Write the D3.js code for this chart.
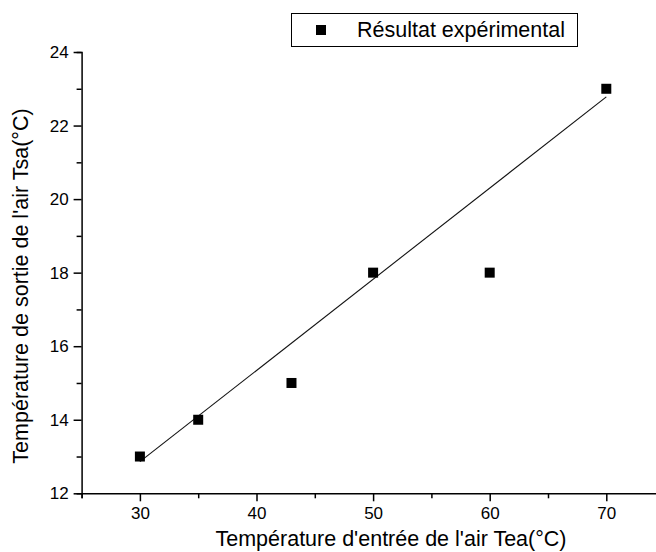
<!DOCTYPE html>
<html>
<head>
<meta charset="utf-8">
<script src="https://cdn.jsdelivr.net/npm/d3@7/dist/d3.min.js"></script>
<style>
  html, body { margin: 0; padding: 0; background: #fff; }
  svg { display: block; font-family: "Liberation Sans", Arial, sans-serif; }
</style>
</head>
<body>
<svg id="chart" width="656" height="552"></svg>
<script>
// Measured points: inlet air temperature vs outlet air temperature
const inletTemp = [30, 35, 43, 50, 60, 70];
const outletTemp = [13, 14, 15, 18, 18, 23];

// Fitted straight line (end points)
const fitInlet = [30, 70];
const fitOutlet = [12.86, 22.78];

const xMajorTicks = [30, 40, 50, 60, 70];
const xMinorTicks = [25, 35, 45, 55, 65, 75];
const yMajorTicks = [12, 14, 16, 18, 20, 22, 24];
const yMinorTicks = [13, 15, 17, 19, 21, 23];

const legendLabel = "Résultat expérimental";
const xTitle = "Température d'entrée de l'air Tea(°C)";
const yTitle = "Température de sortie de l'air Tsa(°C)";

const svg = d3.select("#chart");

const x = d3.scaleLinear().domain([25, 75]).range([81.6, 664.6]);
const y = d3.scaleLinear().domain([12, 24]).range([493.3, 52]);

// Axes (outward ticks, major + minor)
const gx = svg.append("g").attr("transform", `translate(0,${y(12)})`);
gx.call(d3.axisBottom(x).tickValues(xMinorTicks).tickSize(5).tickFormat(""));
gx.call(g => g.append("g").call(d3.axisBottom(x).tickValues(xMajorTicks).tickSize(8).tickPadding(6).tickFormat(d3.format("d"))));

const gy = svg.append("g").attr("transform", `translate(${x(25)},0)`);
gy.call(d3.axisLeft(y).tickValues(yMinorTicks).tickSize(5).tickFormat(""));
gy.call(g => g.append("g").call(d3.axisLeft(y).tickValues(yMajorTicks).tickSize(8).tickPadding(5).tickFormat(d3.format("d"))));

svg.selectAll(".domain").attr("stroke", "#000").attr("stroke-width", 1.5);
svg.selectAll(".tick line").attr("stroke", "#000").attr("stroke-width", 1.5);
svg.selectAll(".tick text")
  .attr("fill", "#000")
  .style("font-size", "17px")
  .style("font-family", "'Liberation Sans', Arial, sans-serif");
// Only keep one domain path per axis
gx.selectAll("g > g .domain").remove();
gy.selectAll("g > g .domain").remove();

// Fit line
const line = d3.line().x((d, i) => x(fitInlet[i])).y(d => y(d));
svg.append("path")
  .datum(fitOutlet)
  .attr("d", line)
  .attr("fill", "none")
  .attr("stroke", "#111")
  .attr("stroke-width", 1.1);

// Square markers
const ms = 10;
svg.append("g").selectAll("rect")
  .data(inletTemp)
  .join("rect")
  .attr("x", d => x(d) - ms / 2)
  .attr("y", (d, i) => y(outletTemp[i]) - ms / 2)
  .attr("width", ms)
  .attr("height", ms)
  .attr("fill", "#000");

// Axis titles
svg.append("text")
  .attr("x", 391)
  .attr("y", 546)
  .attr("text-anchor", "middle")
  .style("font-size", "21.5px")
  .text(xTitle);

svg.append("text")
  .attr("transform", `translate(28,286) rotate(-90)`)
  .attr("text-anchor", "middle")
  .style("font-size", "21.5px")
  .text(yTitle);

// Legend
const lg = svg.append("g");
lg.append("rect")
  .attr("x", 291.5).attr("y", 13.5)
  .attr("width", 286).attr("height", 33)
  .attr("fill", "#fff")
  .attr("stroke", "#000")
  .attr("stroke-width", 1);
lg.append("rect")
  .attr("x", 316).attr("y", 25)
  .attr("width", ms).attr("height", ms)
  .attr("fill", "#000");
lg.append("text")
  .attr("x", 357).attr("y", 37)
  .style("font-size", "21.5px")
  .text(legendLabel);
</script>
</body>
</html>
